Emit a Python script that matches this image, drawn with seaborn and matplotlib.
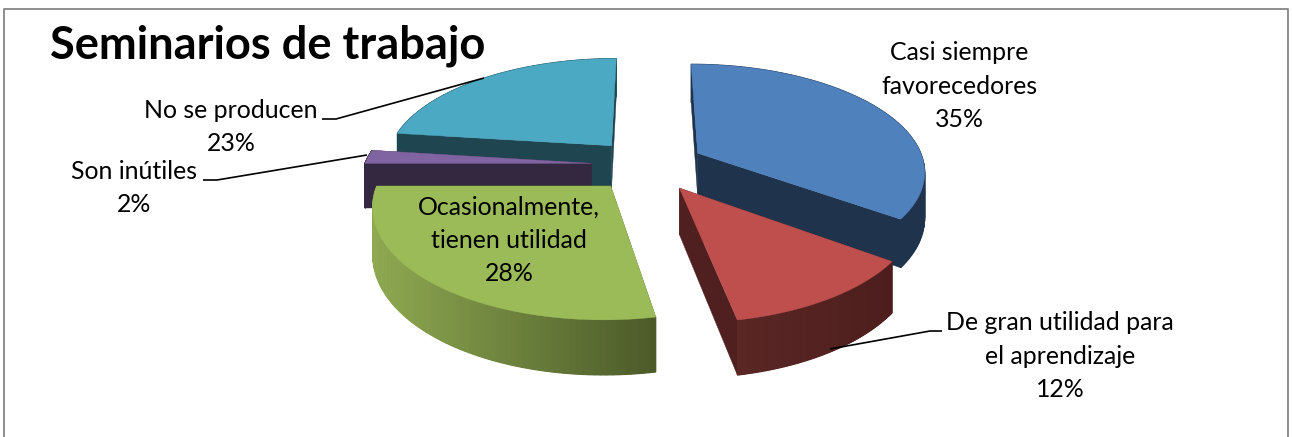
import numpy as np
import matplotlib
matplotlib.use("Agg")
import matplotlib.pyplot as plt
import seaborn as sns

# data
categories = ["Casi siempre\nfavorecedores", "De gran utilidad para\nel aprendizaje",
              "Ocasionalmente,\ntienen utilidad", "Son inútiles", "No se producen"]
values = [35, 12, 28, 2, 23]

top_colors = ["#4F81BD", "#BE4F4C", "#9BBB59", "#8064A2", "#4BA9C3"]
wall_colors = [("#1F334D", "#1F334D"), ("#5A2725", "#4D1E1D"), ("#8EA951", "#4C5A29"),
               ("#33283F", "#33283F"), ("#1F4650", "#1F4650")]
radial_colors = ["#1F334D", "#4F201F", "#4C5A29", "#33283F", "#1F4650"]

label_pos = [(959, 86), (1060, 356), (509, 240), (134, 188), (231, 127)]
leaders = [None,
           [(942, 331), (930, 331), (830, 349)],
           None,
           [(203, 180), (217, 180), (367, 155)],
           [(322, 119), (336, 119), (484, 78)]]

# pie geometry, in image pixels
cx, cy = 648, 165
rx, ry = 227, 106
persp = 0.154
explode = 0.25
depth = 45


def project(u, v, down=0.0):
    s = 1 / (1 + persp * v)
    return cx + rx * u * s, cy - ry * v * s + down * depth * s


def slice_outline(start, stop, n):
    mid = (start + stop) / 2
    ou, ov = explode * np.sin(mid), explode * np.cos(mid)
    ang = np.linspace(start, stop, n)
    return ou, ov, ou + np.sin(ang), ov + np.cos(ang)


sns.set_theme(style="white")
plt.rcParams["font.family"] = ["Lato", "DejaVu Sans"]

fig = plt.figure(figsize=(12.92, 4.37), dpi=100)
ax = fig.add_axes([0, 0, 1, 1])
ax.set_xlim(0, 1292)
ax.set_ylim(437, 0)
ax.axis("off")

# frame of the chart area, bottom edge is cut off
ax.plot([4, 4, 1288, 1288], [437, 9, 9, 437], color="#868686", lw=1.3)

edges = np.cumsum([0] + values) / sum(values) * 2 * np.pi

# back to front, the way the slices overlap
for i in [4, 3, 0, 2, 1]:
    ou, ov, us, vs = slice_outline(edges[i], edges[i + 1], 80)
    ax_, ay_ = project(ou, ov)
    bx_, by_ = project(ou, ov, 1)

    # flat cut faces
    for j in [0, -1]:
        x1, y1 = project(us[j], vs[j])
        x2, y2 = project(us[j], vs[j], 1)
        ax.fill([ax_, x1, x2, bx_], [ay_, y1, y2, by_], color=radial_colors[i], lw=0.3, zorder=2)

    # curved wall, small quads so it can carry a gradient
    tx, ty = project(us, vs)
    bx, by = project(us, vs, 1)
    shades = sns.blend_palette(list(wall_colors[i]), 80)
    span = tx.max() - tx.min()
    ax.fill(np.r_[tx, bx[::-1]], np.r_[ty, by[::-1]], color=shades[40], lw=0, zorder=2)
    for k in range(len(us) - 1):
        c = shades[int((tx[k] - tx.min()) / span * 79)]
        ax.fill([tx[k], tx[k + 1], bx[k + 1], bx[k]], [ty[k], ty[k + 1], by[k + 1], by[k]],
                color=c, lw=0.8, zorder=2)

    # top face
    ax.fill(np.r_[ax_, tx], np.r_[ay_, ty], color=top_colors[i], lw=0.3, zorder=2)

# leader lines
for pts in leaders:
    if pts is not None:
        ax.plot(*zip(*pts), color="black", lw=1.2, zorder=3, solid_capstyle="butt")

# data labels
for name, val, pos in zip(categories, values, label_pos):
    ax.text(pos[0], pos[1], f"{name}\n{val}%", ha="center", va="center", ma="center",
            fontsize=17.9, color="black", linespacing=1.53, zorder=4)

ax.text(50, 46, "Seminarios de trabajo", ha="left", va="center", fontsize=32.6,
        fontweight="bold", color="black", zorder=4)

fig.savefig("out.png", dpi=100, facecolor="white")
